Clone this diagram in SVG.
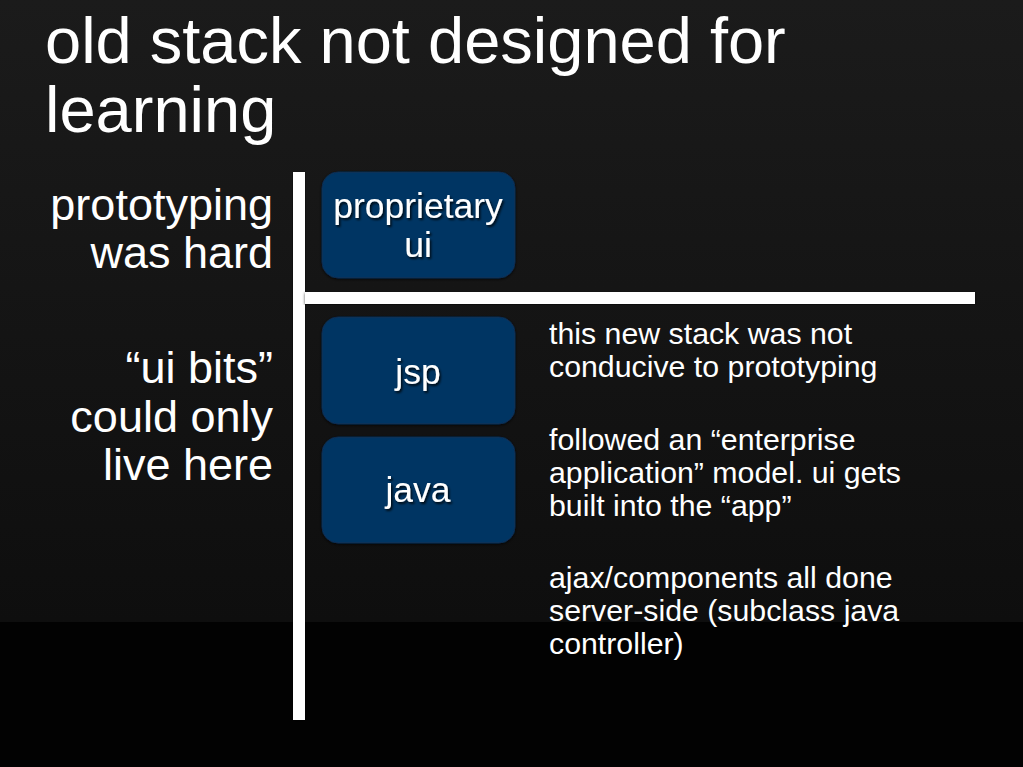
<svg xmlns="http://www.w3.org/2000/svg" width="1023" height="767" viewBox="0 0 1023 767">
  <defs>
    <linearGradient id="bg" x1="0" y1="0" x2="0" y2="1">
      <stop offset="0" stop-color="#1b1b1b"/>
      <stop offset="1" stop-color="#0e0e0e"/>
    </linearGradient>
    <filter id="ts" x="-10%" y="-20%" width="130%" height="150%">
      <feDropShadow dx="1.5" dy="2" stdDeviation="0.8" flood-color="#000" flood-opacity="0.8"/>
    </filter>
    <filter id="bs" x="-5%" y="-5%" width="110%" height="110%">
      <feDropShadow dx="0" dy="1" stdDeviation="1.5" flood-color="#000" flood-opacity="0.7"/>
    </filter>
  </defs>
  <style>
    text { font-family: "Liberation Sans", Arial, Helvetica, sans-serif; fill: #ffffff; }
    .title { font-size: 65px; }
    .side { font-size: 45px; text-anchor: end; }
    .note { font-size: 30.3px; }
    .box { fill: #063563; stroke: #0a2c4e; stroke-width: 1; filter: url(#bs); }
    .label { font-size: 35.5px; text-anchor: middle; filter: url(#ts); }
    .bar { fill: #ffffff; filter: url(#bs); }
  </style>

  <rect x="0" y="0" width="1023" height="622" fill="url(#bg)"/>
  <rect x="0" y="622" width="1023" height="145" fill="#020202"/>

  <g id="title">
    <text class="title" x="45" y="63">old stack not designed for</text>
    <text class="title" x="45" y="132">learning</text>
  </g>

  <g id="side-labels">
    <text class="side" x="273" y="220">prototyping</text>
    <text class="side" x="273" y="268">was hard</text>
    <text class="side" x="273" y="383">“ui bits”</text>
    <text class="side" x="273" y="432">could only</text>
    <text class="side" x="273" y="480">live here</text>
  </g>

  <g id="dividers">
    <rect class="bar" x="293" y="172" width="12" height="548"/>
    <rect class="bar" x="305" y="292" width="670" height="12"/>
  </g>

  <g id="node-proprietary-ui">
    <rect class="box" x="322" y="172" width="193" height="106" rx="16" ry="16"/>
    <text class="label" x="418" y="218">proprietary</text>
    <text class="label" x="418" y="257">ui</text>
  </g>

  <g id="node-jsp">
    <rect class="box" x="322" y="317" width="193" height="107" rx="16" ry="16"/>
    <text class="label" x="418" y="384">jsp</text>
  </g>

  <g id="node-java">
    <rect class="box" x="322" y="437" width="193" height="106" rx="16" ry="16"/>
    <text class="label" x="418" y="502">java</text>
  </g>

  <g id="notes">
    <text class="note" x="549" y="344">this new stack was not</text>
    <text class="note" x="549" y="377">conducive to prototyping</text>
    <text class="note" x="549" y="450">followed an “enterprise</text>
    <text class="note" x="549" y="483">application” model. ui gets</text>
    <text class="note" x="549" y="516">built into the “app”</text>
    <text class="note" x="549" y="588">ajax/components all done</text>
    <text class="note" x="549" y="621">server-side (subclass java</text>
    <text class="note" x="549" y="654">controller)</text>
  </g>
</svg>
